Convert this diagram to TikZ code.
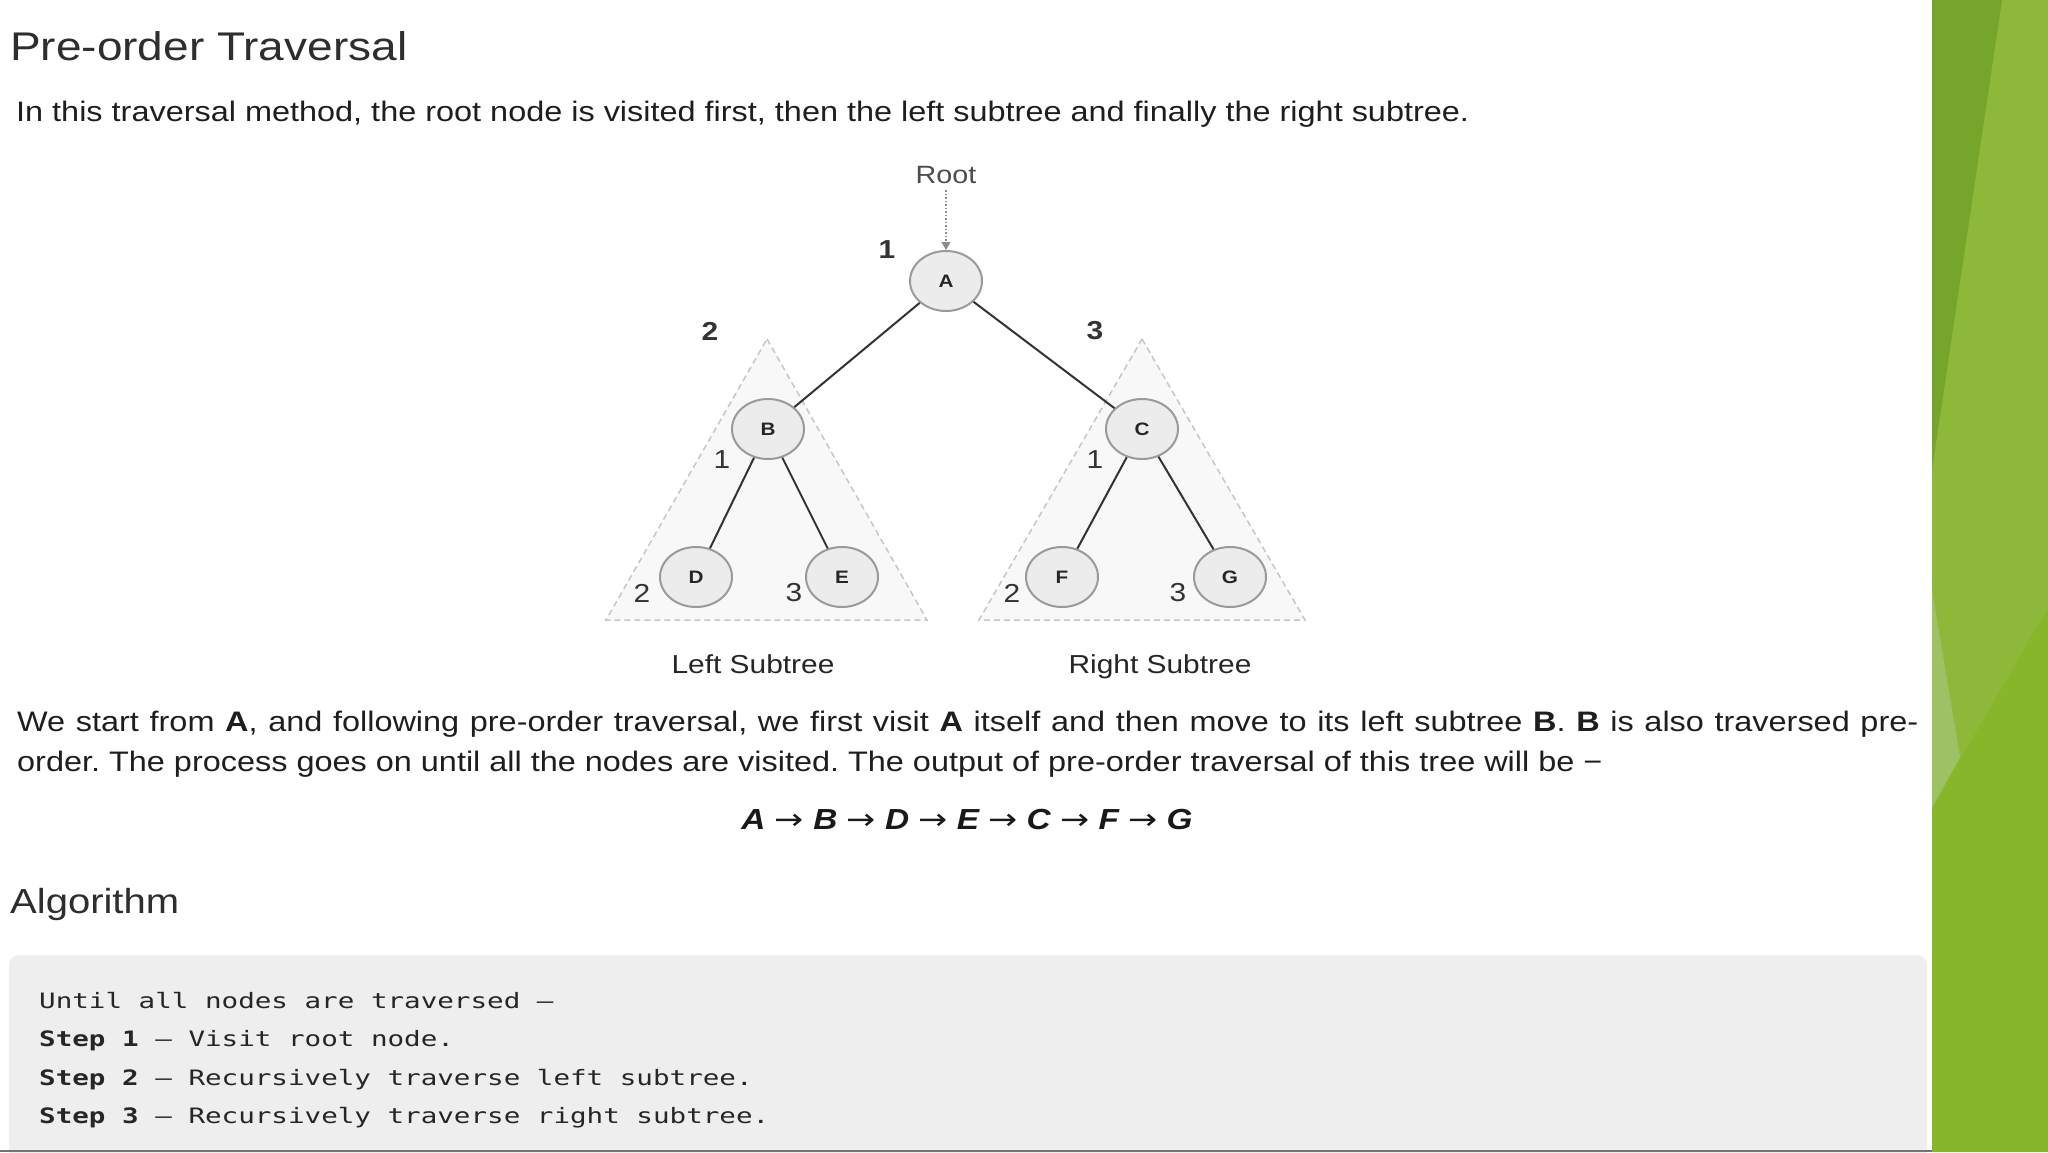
\documentclass[tikz,border=0pt]{standalone}
\usepackage{fontspec}
\setmainfont{Liberation Sans}[FakeStretch=1.15]
\setmonofont{DejaVu Sans Mono}[FakeStretch=1.3]
\newfontfamily\arrowfont{DejaVu Sans}[FakeStretch=1.2]
\usetikzlibrary{shapes.geometric,arrows.meta}
\definecolor{txt}{HTML}{1E1E1E}
\definecolor{head}{HTML}{2E2E2E}
\definecolor{codebg}{HTML}{EEEEEE}
\definecolor{gbase}{HTML}{8DB83A}
\definecolor{gdark}{HTML}{75A52A}
\definecolor{gbot}{HTML}{87B62A}
\definecolor{gpale}{HTML}{9DC266}
\definecolor{nodefill}{HTML}{ECECEC}
\definecolor{nodeline}{HTML}{9A9A9A}
\definecolor{edge}{HTML}{333333}
\definecolor{tri}{HTML}{C6C6C6}
\definecolor{trifill}{HTML}{F8F8F8}
\newcommand\seqarr{{\arrowfont\mdseries\upshape →}}
\frenchspacing
\begin{document}
\begin{tikzpicture}[x=1pt,y=-1pt,
  line/.style={anchor=base west,inner sep=0pt,text=txt},
  title/.style={line,text=head,font=\fontsize{40}{48}\selectfont},
  body/.style={line,font=\fontsize{28.2}{34}\selectfont},
  code/.style={line,font=\ttfamily\fontsize{21.2}{26}\selectfont,text=black!85},
  tnode/.style={ellipse,draw=nodeline,line width=2pt,fill=nodefill,minimum width=72pt,minimum height=60pt,inner sep=0pt,font=\bfseries\fontsize{18}{20}\selectfont,text=black!85},
  tedge/.style={draw=edge,line width=2pt},
  bnum/.style={inner sep=0pt,font=\bfseries\fontsize{26}{28}\selectfont,text=black!80},
  rnum/.style={inner sep=0pt,font=\fontsize{26}{28}\selectfont,text=black!80},
  sub/.style={inner sep=0pt,anchor=base,font=\fontsize{26}{30}\selectfont,text=black!85},
  triangle/.style={draw=tri,fill=trifill,dashed,dash pattern=on 6pt off 4pt,line width=1.5pt}
]
\useasboundingbox (0,0) rectangle (2048,1152);
\fill[white] (0,0) rectangle (2048,1152);

% green side panel
\fill[gbase] (1932,0) rectangle (2048,1152);
\fill[gdark] (1932,0) -- (2002,0) -- (1932,470) -- cycle;
\fill[gbot] (1932,808) -- (2048,608) -- (2048,1152) -- (1932,1152) -- cycle;
\fill[gpale] (1932,590) -- (1960,757) -- (1932,808) -- cycle;

% headings and text
\node[title] (t1) at (10,60) {Pre-order Traversal};
\node[body] (p1) at (16,121) {In this traversal method, the root node is visited first, then the left subtree and finally the right subtree.};

% subtree triangles
\draw[triangle] (767,339) -- (927,620) -- (606,620) -- cycle;
\draw[triangle] (1142,339) -- (1305,620) -- (979,620) -- cycle;

% tree
\node[tnode] (A) at (946,281) {A};
\node[tnode] (B) at (768,429) {B};
\node[tnode] (C) at (1142,429) {C};
\node[tnode] (D) at (696,577) {D};
\node[tnode] (E) at (842,577) {E};
\node[tnode] (F) at (1062,577) {F};
\node[tnode] (G) at (1230,577) {G};
\draw[tedge] (A) -- (B);
\draw[tedge] (A) -- (C);
\draw[tedge] (B) -- (D);
\draw[tedge] (B) -- (E);
\draw[tedge] (C) -- (F);
\draw[tedge] (C) -- (G);

\node[inner sep=0pt,font=\fontsize{25}{28}\selectfont,text=black!70] (root) at (946,175) {Root};
\coordinate (rootstart) at (946,190);
\draw[black!45,line width=1.5pt,dotted,-{Triangle[width=9pt,length=8pt,fill=black!45]}] (rootstart) -- (A.north);

\node[bnum] (n1) at (887,250) {1};
\node[bnum] (n2) at (710,331) {2};
\node[bnum] (n3) at (1095,331) {3};
\node[rnum] (b1) at (722,460) {1};
\node[rnum] (c1) at (1095,460) {1};
\node[rnum] (d2) at (642,593) {2};
\node[rnum] (e3) at (794,593) {3};
\node[rnum] (f2) at (1012,593) {2};
\node[rnum] (g3) at (1178,593) {3};

\node[sub] (ls) at (753,673) {Left Subtree};
\node[sub] (rs) at (1160,673) {Right Subtree};

% paragraph 2
\node[body] (p2) at (17,731) {\makebox[1901pt][s]{We start from \textbf{A}, and following pre-order traversal, we first visit \textbf{A} itself and then move to its left subtree \textbf{B}. \textbf{B} is also traversed pre-}};
\node[body] (p3) at (17,771) {order. The process goes on until all the nodes are visited. The output of pre-order traversal of this tree will be −};

\node[inner sep=0pt,anchor=base,font=\bfseries\itshape\fontsize{29}{32}\selectfont,text=black!90] (seq) at (967,829)
  {A \seqarr{} B \seqarr{} D \seqarr{} E \seqarr{} C \seqarr{} F \seqarr{} G};

\node[title,font=\fontsize{34.8}{40}\selectfont] (alg) at (10,913) {Algorithm};

% code box
\fill[codebg,rounded corners=10pt] (9,955) rectangle (1927,1175);
\node[code] (c0) at (39,1008) {Until all nodes are traversed –};
\node[code] (c1l) at (39,1046) {\textbf{Step 1} – Visit root node.};
\node[code] (c2l) at (39,1085) {\textbf{Step 2} – Recursively traverse left subtree.};
\node[code] (c3l) at (39,1123) {\textbf{Step 3} – Recursively traverse right subtree.};

\draw[black!55,line width=1.5pt] (0,1151) -- (1932,1151);
\end{tikzpicture}
\end{document}
